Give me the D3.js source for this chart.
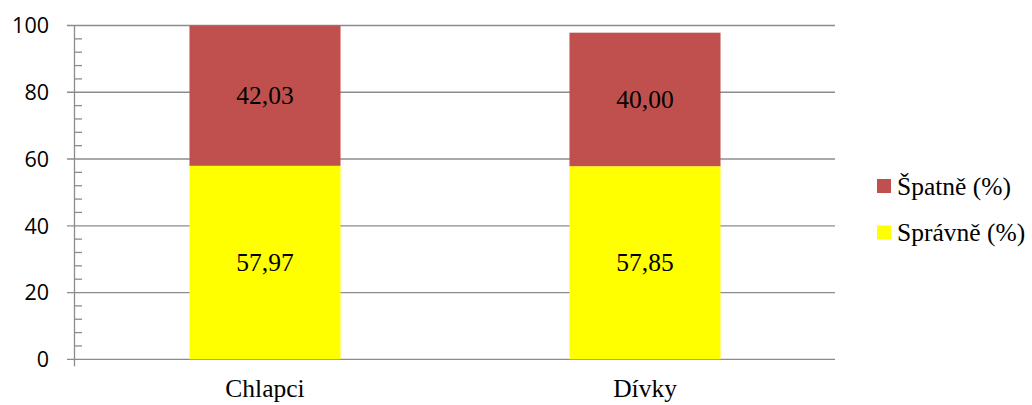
<!DOCTYPE html>
<html><head><meta charset="utf-8">
<script src="https://cdn.jsdelivr.net/npm/d3@7/dist/d3.min.js"></script>
<style>body{margin:0;background:#fff}</style>
</head><body>
<svg id="c" width="1032" height="405"></svg>
<script>
const categories = ["Chlapci", "Dívky"];
const spravne = [57.97, 57.85];
const spatne = [42.03, 40.00];
const seriesNames = ["Správně (%)", "Špatně (%)"];
const yTicks = [0, 20, 40, 60, 80, 100];

(function () {
const svg = d3.select("#c");
const pLeft = 75, pRight = 835, pTop = 25.5, pBottom = 359.3;
const x = d3.scaleBand().domain(categories).range([pLeft, pRight]).paddingInner(0.6025).paddingOuter(0.30125);
const y = d3.scaleLinear().domain([0, 100]).range([pBottom, pTop]);
const colors = ["#FFFF00", "#C0504D"];
const serif = "'Liberation Serif', 'Times New Roman', serif";

svg.append("g").selectAll("line").data(yTicks).join("line")
  .attr("x1", pLeft - 8).attr("x2", pRight)
  .attr("y1", d => y(d)).attr("y2", d => y(d))
  .attr("stroke", "#8c8c8c").attr("stroke-width", 1.3);
const minor = d3.range(0, 100, 4).filter(d => d % 20 !== 0);
svg.append("g").selectAll("line").data(minor).join("line")
  .attr("x1", pLeft).attr("x2", pLeft + 7)
  .attr("y1", d => y(d)).attr("y2", d => y(d))
  .attr("stroke", "#8c8c8c").attr("stroke-width", 1.3);
svg.append("line").attr("x1", pLeft - 0.5).attr("x2", pLeft - 0.5).attr("y1", pTop).attr("y2", pBottom + 7)
  .attr("stroke", "#8c8c8c").attr("stroke-width", 1.3);
svg.append("g").selectAll("text").data(yTicks).join("text")
  .attr("x", 49).attr("y", d => y(d)).attr("dy", "0.36em")
  .attr("text-anchor", "end").attr("font-family", "'Open Sans', sans-serif").attr("font-size", 21.5)
  .attr("fill", "#000").text(d => d);

const stack = d3.stack().keys([0, 1]).value((d, k) => d[k]);
const rows = categories.map((c, i) => ({0: spravne[i], 1: spatne[i], cat: c}));
const layers = stack(rows);

layers.forEach((layer, li) => {
  const g = svg.append("g");
  g.selectAll("rect").data(layer).join("rect")
    .attr("x", d => x(d.data.cat)).attr("width", x.bandwidth())
    .attr("y", d => y(d[1])).attr("height", d => y(d[0]) - y(d[1]))
    .attr("fill", colors[li]);
  g.selectAll("text").data(layer).join("text")
    .attr("x", d => x(d.data.cat) + x.bandwidth() / 2)
    .attr("y", d => y((d[0] + d[1]) / 2)).attr("dy", "0.34em")
    .attr("text-anchor", "middle").attr("font-family", serif).attr("font-size", 25.5)
    .text(d => (d[1] - d[0]).toFixed(2).replace(".", ","));
});

svg.append("g").selectAll("text").data(categories).join("text")
  .attr("x", d => x(d) + x.bandwidth() / 2).attr("y", 397)
  .attr("text-anchor", "middle").attr("font-family", serif).attr("font-size", 25.5)
  .text(d => d);

const legend = [{name: seriesNames[1], color: colors[1]}, {name: seriesNames[0], color: colors[0]}];
const lg = svg.append("g").selectAll("g").data(legend).join("g")
  .attr("transform", (d, i) => `translate(877,${179 + i * 46.5})`);
lg.append("rect").attr("width", 14).attr("height", 14).attr("fill", d => d.color);
lg.append("text").attr("x", 20).attr("y", 7).attr("dy", "0.34em")
  .attr("font-family", serif).attr("font-size", 25.5).text(d => d.name);
})();
</script>
</body></html>
